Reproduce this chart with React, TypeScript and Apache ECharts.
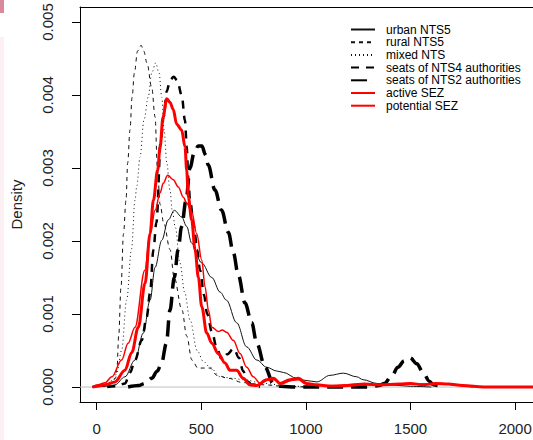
import React, { useEffect, useRef } from "react";
import * as echarts from "echarts";

// x tick labels (population / distance values) and y tick labels (density)
const xTicks = [0, 500, 1000, 1500, 2000];
const yTicks = [0, 0.001, 0.002, 0.003, 0.004, 0.005];

const legendNames = [
  "urban NTS5",
  "rural NTS5",
  "mixed NTS",
  "seats of NTS4 authorities",
  "seats of NTS2 authorities",
  "active SEZ",
  "potential SEZ",
];

const urbanNTS5: [number, number][] = [
  [-20, 0], [40, 0.00001], [87, 0.00003], [135, 0.00014], [183, 0.00037], [223, 0.00074],
  [255, 0.00119], [279, 0.00164], [311, 0.00201], [342, 0.00229], [371, 0.00242], [406, 0.00233],
  [430, 0.0022], [454, 0.00197], [502, 0.0017], [550, 0.0015], [590, 0.0013], [620, 0.00119],
  [669, 0.00088], [717, 0.00055], [765, 0.00037], [813, 0.00027], [860, 0.00022], [892, 0.0002],
  [956, 0.00012], [1000, 0.00009], [1052, 0.00007], [1115, 0.00016], [1179, 0.00019],
  [1243, 0.00014], [1274, 0.0001], [1338, 0.00005], [1400, 0.00003], [1500, 0.00001], [1600, 0],
];

const ruralNTS5: [number, number][] = [
  [-20, 0], [40, 0.00001], [70, 0.00005], [90, 0.00012], [97, 0.00027], [105, 0.0007],
  [116, 0.00137], [128, 0.0021], [140, 0.00256], [148, 0.00307], [159, 0.00352], [169, 0.00397],
  [180, 0.0043], [195, 0.0046], [212, 0.00468], [225, 0.0046], [240, 0.00444], [263, 0.0041],
  [279, 0.0037], [290, 0.003], [303, 0.0025], [320, 0.00225], [351, 0.00188], [370, 0.0015],
  [408, 0.00105], [430, 0.0007], [455, 0.00037], [484, 0.00026], [542, 0.00026], [575, 0.00016],
  [628, 0.00012], [700, 0.00006], [800, 0.00003], [900, 0.00001], [1000, 0],
];

const mixedNTS: [number, number][] = [
  [-20, 0], [40, 0.00002], [80, 0.0001], [96, 0.00019], [119, 0.0005], [143, 0.00119],
  [166, 0.00188], [183, 0.00256], [191, 0.00274], [207, 0.00315], [226, 0.00366], [246, 0.00397],
  [263, 0.0043], [282, 0.00444], [298, 0.0043], [311, 0.00397], [322, 0.00352], [335, 0.00307],
  [350, 0.0027], [361, 0.00242], [375, 0.0022], [398, 0.0017], [420, 0.0013], [446, 0.00092],
  [480, 0.0005], [510, 0.00035], [542, 0.00027], [590, 0.00014], [650, 0.00012], [700, 0.0001],
  [800, 0.00005], [900, 0.00002], [1000, 0],
];

const seatsNTS4: [number, number][] = [
  [50, 0], [100, 0.00001], [135, 0.00005], [160, 0.0002], [183, 0.00037], [215, 0.00064],
  [239, 0.00096], [255, 0.00129], [271, 0.00188], [285, 0.00225], [307, 0.0034], [320, 0.0037],
  [335, 0.00405], [350, 0.0042], [368, 0.00425], [385, 0.0042], [406, 0.004], [422, 0.00365],
  [430, 0.0033], [438, 0.00285], [446, 0.00256], [465, 0.0022], [480, 0.00188], [494, 0.0016],
  [513, 0.00126], [528, 0.001], [551, 0.00075], [575, 0.00052], [598, 0.00038], [625, 0.00045],
  [655, 0.00053], [680, 0.0004], [700, 0.00022], [720, 0.00008], [745, 0.00002], [780, 0],
];

const seatsNTS2: [number, number][] = [
  [150, 0], [200, 0.00002], [230, 0.00005], [263, 0.00012], [290, 0.00022], [310, 0.00033],
  [333, 0.0006], [350, 0.00105], [371, 0.0015], [389, 0.00188], [406, 0.0022], [427, 0.00256],
  [446, 0.003], [465, 0.0032], [485, 0.0033], [503, 0.0033], [520, 0.00318], [533, 0.00304],
  [565, 0.0027], [597, 0.00242], [629, 0.00212], [653, 0.00184], [677, 0.00153], [709, 0.00115],
  [741, 0.00088], [765, 0.0006], [805, 0.00027], [844, 0.00005], [880, 0.00001], [950, 0],
  [1300, 0], [1350, 0.00002], [1375, 0.00005], [1410, 0.00015], [1440, 0.00027], [1470, 0.00036],
  [1498, 0.0004], [1530, 0.00032], [1560, 0.0002], [1590, 0.00008], [1610, 0.00003], [1650, 0],
];

const activeSEZ: [number, number][] = [
  [-20, 0], [0, 0.00001], [40, 0.00003], [87, 0.00007], [135, 0.00023], [167, 0.00047],
  [199, 0.00082], [231, 0.00142], [255, 0.0021], [271, 0.00256], [291, 0.00297], [303, 0.00329],
  [317, 0.0037], [335, 0.00395], [350, 0.0039], [366, 0.0038], [382, 0.0036], [406, 0.00352],
  [422, 0.00329], [430, 0.00297], [438, 0.0026], [454, 0.00229], [470, 0.00188], [486, 0.0015],
  [502, 0.0011], [526, 0.00074], [550, 0.0006], [581, 0.00046], [613, 0.00033], [637, 0.00023],
  [669, 0.00023], [700, 0.00012], [733, 0.00003], [765, 0.00002], [813, 0.0001], [845, 0.00012],
  [876, 0.00005], [924, 0.0001], [964, 0.00012], [1004, 0.00005], [1052, 0.00003], [1115, 0.00001],
  [1200, 0.00002], [1280, 0.00004], [1350, 0.00003], [1450, 0.00004], [1500, 0.00005],
  [1560, 0.00003], [1620, 0.00005], [1680, 0.00004], [1750, 0.00002], [1850, 0], [2167, 0],
];

const potentialSEZ: [number, number][] = [
  [-20, 0], [6, 0.00003], [40, 0.00006], [72, 0.00014], [119, 0.00037], [150, 0.0006],
  [183, 0.00082], [230, 0.0016], [255, 0.0021], [279, 0.00242], [303, 0.00266], [318, 0.00279],
  [339, 0.0029], [366, 0.00284], [390, 0.00274], [414, 0.0026], [430, 0.00252], [454, 0.0024],
  [478, 0.0021], [502, 0.00174], [518, 0.00137], [534, 0.00105], [550, 0.00082], [581, 0.00076],
  [600, 0.00078], [621, 0.00075], [653, 0.00064], [685, 0.00046], [717, 0.00027], [749, 0.00014],
  [781, 0.00005], [820, 0.0001], [850, 0.0001], [880, 0.00004], [930, 0.00009], [965, 0.0001],
  [1000, 0.00004], [1050, 0.00002], [1150, 0.00002], [1250, 0.00004], [1350, 0.00002],
  [1450, 0.00004], [1550, 0.00004], [1650, 0.00005], [1700, 0.00003], [1800, 0],
];

const FONT = "'Liberation Sans', Arial, sans-serif";
const X_MIN = -80;
const X_MAX = 2167;

function curve(name: string, data: [number, number][], color: string, width: number, type: any) {
  return {
    type: "line",
    name,
    data,
    symbol: "none",
    showSymbol: false,
    smooth: 0.35,
    smoothMonotone: "x",
    clip: true,
    lineStyle: { color, width, type, cap: "butt" },
    itemStyle: { color, opacity: 0 },
    emphasis: { disabled: true },
  };
}

export default function App() {
  const ref = useRef<HTMLDivElement>(null);
  useEffect(() => {
    if (!ref.current) return;
    const chart = echarts.init(ref.current, undefined, { renderer: "svg" });
    chart.setOption({
      animation: false,
      backgroundColor: "#ffffff",
      textStyle: { fontFamily: FONT },
      graphic: [
        { type: "rect", shape: { x: 0, y: 0, width: 4, height: 13 }, style: { fill: "#d9899b" }, silent: true },
        { type: "rect", shape: { x: 0, y: 37, width: 4, height: 403 }, style: { fill: "#fcf0f3" }, silent: true },
      ],
      grid: {
        left: 80,
        top: 7,
        width: 470,
        height: 395,
        containLabel: false,
      },
      legend: {
        data: legendNames,
        orient: "vertical",
        left: 345,
        top: 18.5,
        itemWidth: 24,
        itemHeight: 14,
        itemGap: 0.7,
        selectedMode: false,
        itemStyle: { opacity: 0 },
        textStyle: { fontFamily: FONT, fontSize: 12, color: "#000", padding: [0, 0, 0, 6] },
      },
      xAxis: [
        {
          type: "value",
          min: X_MIN,
          max: X_MAX,
          position: "bottom",
          splitLine: { show: false },
          axisLine: { show: true, onZero: false, lineStyle: { color: "#000", width: 1 } },
          axisTick: { show: true, length: 8, customValues: xTicks, lineStyle: { color: "#000", width: 1 } },
          axisLabel: {
            customValues: xTicks,
            fontFamily: FONT,
            fontSize: 15,
            color: "#222",
            margin: 19,
            formatter: (v: number) => String(v),
          },
        },
        {
          type: "value",
          min: X_MIN,
          max: X_MAX,
          position: "top",
          splitLine: { show: false },
          axisLine: { show: true, onZero: false, lineStyle: { color: "#000", width: 1 } },
          axisTick: { show: false },
          axisLabel: { show: false },
        },
      ],
      yAxis: {
        type: "value",
        min: -0.000205,
        max: 0.005205,
        name: "Density",
        nameLocation: "middle",
        nameGap: 56,
        nameTextStyle: { fontFamily: FONT, fontSize: 15, color: "#222" },
        splitLine: { show: false },
        axisLine: { show: true, onZero: false, lineStyle: { color: "#000", width: 1 } },
        axisTick: { show: true, length: 8, customValues: yTicks, lineStyle: { color: "#000", width: 1 } },
        axisLabel: {
          customValues: yTicks,
          rotate: 90,
          fontFamily: FONT,
          fontSize: 15,
          color: "#222",
          margin: 25,
          formatter: (v: number) => v.toFixed(3),
        },
      },
      series: [
        {
          type: "line",
          name: "zero",
          data: [[X_MIN, 0], [X_MAX, 0]],
          symbol: "none",
          silent: true,
          lineStyle: { color: "#bebebe", width: 1 },
          z: 1,
        },
        curve("urban NTS5", urbanNTS5, "#111", 1, "solid"),
        curve("rural NTS5", ruralNTS5, "#111", 1, [4, 4]),
        curve("mixed NTS", mixedNTS, "#111", 1, [1, 3]),
        curve("seats of NTS4 authorities", seatsNTS4, "#000", 2.5, [8, 7]),
        curve("seats of NTS2 authorities", seatsNTS2, "#000", 3.5, [16, 8]),
        curve("active SEZ", activeSEZ, "#ff0000", 3, "solid"),
        curve("potential SEZ", potentialSEZ, "#ff0000", 1.5, "solid"),
      ],
    });
    return () => chart.dispose();
  }, []);
  return (
    <div
      ref={ref}
      style={{ position: "fixed", left: 0, top: 0, width: 560, height: 440 }}
    />
  );
}
